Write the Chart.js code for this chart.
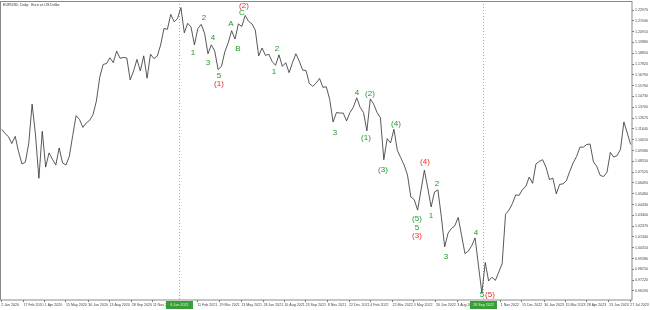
<!DOCTYPE html>
<html>
<head>
<meta charset="utf-8">
<script src="https://cdn.jsdelivr.net/npm/chart.js@4/dist/chart.umd.min.js"></script>
<style>
  html, body { margin: 0; padding: 0; background: #fff; }
</style>
</head>
<body>
<canvas id="eurusd-chart" width="650" height="310"></canvas>
<script>
// EURUSD weekly closes (Fridays), first week ends 3 Jan 2020
const firstWeek = '3 Jan 2020';
const closes = [
    // 2020
    1.1160, 1.1120, 1.1090, 1.1025, 1.1093, 1.0945, 1.0830, 1.0847, 1.1026, 1.1400,
    1.1106, 1.0693, 1.1141, 1.0800, 1.0935, 1.0875, 1.0820, 1.0982, 1.0840, 1.0820,
    1.0902, 1.1100, 1.1290, 1.1255, 1.1178, 1.1220, 1.1245, 1.1300, 1.1428, 1.1656,
    1.1778, 1.1787, 1.1842, 1.1795, 1.1905, 1.1837, 1.1845, 1.1840, 1.1632, 1.1715,
    1.1826, 1.1717, 1.1860, 1.1647, 1.1876, 1.1834, 1.1857, 1.1963, 1.2121, 1.2113,
    1.2255, 1.2185,
    // 2021
    1.2215, 1.2320, 1.2080, 1.2170, 1.2135, 1.1965, 1.2120, 1.2160, 1.2075, 1.1880,
    1.1965, 1.1905, 1.1730, 1.1760, 1.1900, 1.1985, 1.2100, 1.2020, 1.2165, 1.2140,
    1.2245, 1.2190, 1.2165, 1.2105, 1.1860, 1.1935, 1.1865, 1.1875, 1.1805, 1.1770,
    1.1870, 1.1760, 1.1795, 1.1700, 1.1795, 1.1880, 1.1810, 1.1725, 1.1720, 1.1595,
    1.1570, 1.1600, 1.1645, 1.1560, 1.1565, 1.1445, 1.1230, 1.1320, 1.1315, 1.1315,
    1.1240, 1.1320, 1.1370,
    // 2022
    1.1460, 1.1370, 1.1320, 1.1145, 1.1450, 1.1400, 1.1320, 1.1270, 1.0870, 1.1070,
    1.1030, 1.1160, 1.0960, 1.0890, 1.0820, 1.0725, 1.0515, 1.0490, 1.0390, 1.0580,
    1.0770, 1.0600, 1.0420, 1.0563, 1.0582, 1.0330, 1.0040, 1.0170, 1.0215, 1.0240,
    1.0320, 1.0150, 0.9975, 1.0000, 1.0050, 1.0125, 0.9860, 0.9600, 0.9890, 0.9715,
    0.9750, 0.9720, 0.9800, 0.9880, 1.0350, 1.0390, 1.0450, 1.0535, 1.0530, 1.0585,
    1.0615, 1.0705,
    // 2023
    1.0645, 1.0830, 1.0855, 1.0870, 1.0795, 1.0680, 1.0695, 1.0545, 1.0635, 1.0640,
    1.0670, 1.0760, 1.0840, 1.0900, 1.0990, 1.0990, 1.1015, 1.1020, 1.0850, 1.0805,
    1.0720, 1.0710, 1.0750, 1.0940, 1.0895, 1.0910, 1.0970, 1.1230, 1.1125, 1.1015
];

const priceTicks = [
    1.22970, 1.21940, 1.20910, 1.19880, 1.18850, 1.17820, 1.16790, 1.15760, 1.14730,
    1.13700, 1.12670, 1.11640, 1.10610, 1.09580, 1.08550, 1.07520, 1.06490, 1.05460,
    1.04430, 1.03400, 1.02370, 1.01340, 1.00310, 0.99280, 0.98250, 0.97220, 0.96190
];

const dateLabels = [
    '2 Jan 2020', '17 Feb 2020', '1 Apr 2020', '15 May 2020', '30 Jun 2020',
    '13 Aug 2020', '28 Sep 2020', '11 Nov 2020', '11 Feb 2021', '29 Mar 2021',
    '13 May 2021', '28 Jun 2021', '10 Aug 2021', '23 Sep 2021', '8 Nov 2021',
    '22 Dec 2021', '4 Feb 2022', '22 Mar 2022', '5 May 2022', '20 Jun 2022',
    '3 Aug 2022', '1 Nov 2022', '15 Dec 2022', '30 Jan 2023', '15 Mar 2023',
    '28 Apr 2023', '13 Jun 2023', '27 Jul 2023'
];

// vertical dotted markers (top and bottom of the move)
const markerDates = ['6 Jan 2021', '28 Sep 2022'];

// Elliott wave labels
const waveText = ['1', '2', '3', '4', '5', '(1)', 'A', 'B', 'C', '(2)',
    '1', '2', '3', '4', '(1)', '(2)', '(3)', '(4)', '(5)', '5',
    '(3)', '(4)', '1', '2', '3', '4', '5', '(5)'];
const waveDate = ['2 Feb 2021', '24 Feb 2021', '5 Mar 2021', '15 Mar 2021', '28 Mar 2021',
    '28 Mar 2021', '22 Apr 2021', '6 May 2021', '14 May 2021', '18 May 2021',
    '19 Jul 2021', '25 Jul 2021', '22 Nov 2021', '7 Jan 2022', '26 Jan 2022',
    '3 Feb 2022', '2 Mar 2022', '29 Mar 2022', '11 May 2022', '11 May 2022',
    '12 May 2022', '28 May 2022', '9 Jun 2022', '22 Jun 2022', '10 Jul 2022',
    '10 Sep 2022', '23 Sep 2022', '9 Oct 2022'];
const wavePrice = [1.1897, 1.2230, 1.1801, 1.2040, 1.1678, 1.1601, 1.2173, 1.1935, 1.2278, 1.2343,
    1.1716, 1.1935, 1.1134, 1.1516, 1.1087, 1.1506, 1.0782, 1.1220, 1.0315, 1.0229,
    1.0153, 1.0858, 1.0343, 1.0648, 0.9953, 1.0181, 0.9590, 0.9590];
const waveRed = [0, 0, 0, 0, 0, 1, 0, 0, 0, 1,
    0, 0, 0, 0, 0, 0, 0, 0, 0, 0,
    1, 1, 0, 0, 0, 0, 0, 1];

const MONTHS = { Jan: 0, Feb: 1, Mar: 2, Apr: 3, May: 4, Jun: 5, Jul: 6, Aug: 7, Sep: 8, Oct: 9, Nov: 10, Dec: 11 };
function dayOf(s) {
    const p = s.split(' ');
    return Date.UTC(+p[2], MONTHS[p[1]], +p[0]);
}
// position on the x axis, in weeks since the first weekly close
function toWeek(s) {
    return (dayOf(s) - dayOf(firstWeek)) / (7 * 86400000);
}

const GREEN = '#1f9a2a';
const RED = '#e8282b';
const tinyFont = { family: 'Liberation Sans, Arial, sans-serif', size: 3.6 };

const overlay = {
    id: 'overlay',
    beforeDraw(chart) {
        const ctx = chart.ctx;
        ctx.save();
        ctx.fillStyle = '#fff';
        ctx.fillRect(0, 0, chart.width, chart.height);
        ctx.restore();
    },
    beforeDatasetsDraw(chart) {
        const { ctx, chartArea: a, scales: { x } } = chart;
        ctx.save();
        ctx.strokeStyle = '#7fc77f';
        ctx.lineWidth = 1;
        ctx.setLineDash([1, 2]);
        markerDates.forEach(d => {
            const px = Math.round(x.getPixelForValue(toWeek(d))) - 0.5;
            ctx.beginPath();
            ctx.moveTo(px, a.top);
            ctx.lineTo(px, a.bottom);
            ctx.stroke();
        });
        ctx.restore();
    },
    afterDraw(chart) {
        const { ctx, chartArea: a, scales: { x, y } } = chart;
        ctx.save();
        // frame
        ctx.strokeStyle = '#8a8a8a';
        ctx.lineWidth = 1;
        ctx.strokeRect(a.left + 0.5, a.top + 0.5, a.right - a.left - 0.5, a.bottom - a.top - 0.5);

        // title
        ctx.fillStyle = '#333';
        ctx.font = '3.6px Liberation Sans, Arial, sans-serif';
        ctx.textAlign = 'left';
        ctx.textBaseline = 'middle';
        ctx.fillText('EURUSD, Daily:  Euro vs US Dollar', 3, 4.5);

        // green date boxes under the markers
        markerDates.forEach(d => {
            const px = Math.round(x.getPixelForValue(toWeek(d))) - 0.5;
            ctx.fillStyle = '#35a035';
            ctx.fillRect(px - 13.5, a.bottom + 1, 27, 8);
            ctx.fillStyle = '#e8f5e8';
            ctx.textAlign = 'center';
            ctx.fillText(d, px, a.bottom + 5);
        });

        // wave labels
        ctx.font = '8px Liberation Sans, Arial, sans-serif';
        ctx.textAlign = 'center';
        ctx.textBaseline = 'alphabetic';
        waveText.forEach((t, i) => {
            ctx.fillStyle = waveRed[i] ? RED : GREEN;
            const px = Math.round(x.getPixelForValue(toWeek(waveDate[i])));
            const py = Math.round(y.getPixelForValue(wavePrice[i]) + 3);
            ctx.fillText(t, px, py);
        });
        ctx.restore();
    }
};

new Chart(document.getElementById('eurusd-chart'), {
    type: 'line',
    data: {
        datasets: [{
            label: 'EURUSD',
            data: closes.map((c, i) => ({ x: i, y: c })),
            borderColor: '#2f2f2f',
            borderWidth: 0.8,
            pointRadius: 0,
            tension: 0,
            fill: false
        }]
    },
    options: {
        responsive: false,
        devicePixelRatio: 1,
        animation: false,
        layout: { padding: { top: 1, left: 0, right: 0, bottom: 0 } },
        plugins: {
            legend: { display: false },
            tooltip: { enabled: false },
            title: { display: false }
        },
        scales: {
            x: {
                type: 'linear',
                position: 'bottom',
                min: -0.5,
                max: 186.4,
                border: { display: false },
                grid: { drawOnChartArea: false, drawTicks: true, tickLength: 2, color: '#777' },
                afterBuildTicks: s => { s.ticks = dateLabels.map(l => ({ value: toWeek(l) })); },
                afterFit: s => { s.height = 10; s.paddingLeft = 0; s.paddingRight = 0; },
                ticks: {
                    autoSkip: false,
                    maxRotation: 0,
                    align: 'start',
                    padding: 1,
                    color: '#444',
                    font: tinyFont,
                    callback: (v, i) => dateLabels[i]
                }
            },
            y: {
                position: 'right',
                min: 0.95332,
                max: 1.23828,
                border: { display: false },
                grid: { drawOnChartArea: false, drawTicks: true, tickLength: 2, color: '#777' },
                afterBuildTicks: s => { s.ticks = priceTicks.map(v => ({ value: v })); },
                afterFit: s => { s.width = 18; s.paddingTop = 0; s.paddingBottom = 0; },
                ticks: {
                    autoSkip: false,
                    padding: 1,
                    color: '#444',
                    font: tinyFont,
                    callback: v => v.toFixed(5)
                }
            }
        }
    },
    plugins: [overlay]
});
</script>
</body>
</html>
